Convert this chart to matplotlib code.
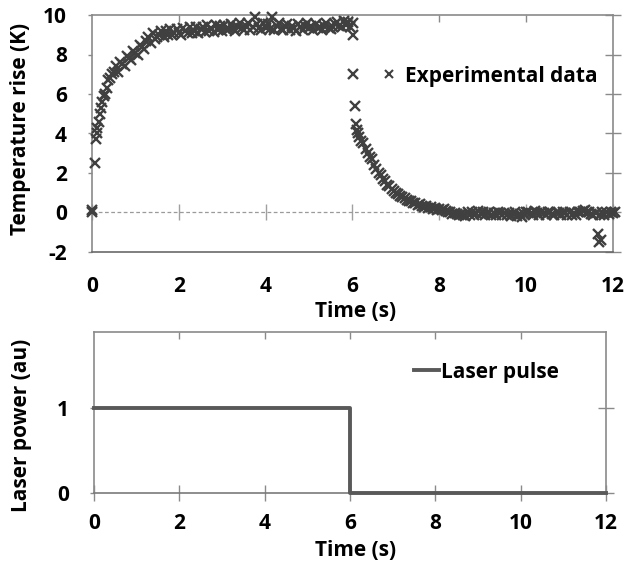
import matplotlib
matplotlib.use("Agg")
import matplotlib.pyplot as plt
from matplotlib.lines import Line2D

plt.rcParams['font.family'] = ['Open Sans', 'DejaVu Sans']
plt.rcParams['font.weight'] = 'bold'
plt.rcParams['axes.unicode_minus'] = False

# ---------------- data ----------------
# heating phase (laser on)
heat_t = [0.00, 0.00, 0.07, 0.10, 0.11, 0.12, 0.15, 0.18, 0.20, 0.24, 0.28, 0.30, 0.34,
          0.37, 0.42, 0.47, 0.50,
          0.55, 0.60, 0.65, 0.70, 0.75, 0.80, 0.85, 0.90, 0.95, 1.00,
          1.05, 1.10, 1.15, 1.20, 1.25, 1.30, 1.35, 1.40, 1.45, 1.50,
          1.55, 1.60, 1.65, 1.70, 1.75, 1.80, 1.85, 1.90, 1.95, 2.00,
          2.05, 2.10, 2.15, 2.20, 2.25, 2.30, 2.35, 2.40, 2.45, 2.50,
          2.55, 2.60, 2.65, 2.70, 2.75, 2.80, 2.85, 2.90, 2.95, 3.00,
          3.05, 3.10, 3.15, 3.20, 3.25, 3.30, 3.35, 3.40, 3.45, 3.50,
          3.55, 3.60, 3.65, 3.70, 3.75, 3.80, 3.85, 3.90, 3.95, 4.00,
          4.05, 4.10, 4.15, 4.20, 4.25, 4.30, 4.35, 4.40, 4.45, 4.50,
          4.55, 4.60, 4.65, 4.70, 4.75, 4.80, 4.85, 4.90, 4.95, 5.00,
          5.05, 5.10, 5.15, 5.20, 5.25, 5.30, 5.35, 5.40, 5.45, 5.50,
          5.55, 5.60, 5.65, 5.70, 5.75, 5.80, 5.85, 5.90, 5.95, 6.00]
heat_T = [0.15, 0.00, 2.5, 3.7, 4.0, 4.3, 4.6, 5.0, 5.3, 5.6, 5.9, 6.0, 6.3,
          6.7, 6.8, 7.0, 7.1,
          7.4, 7.1, 7.6, 7.5, 7.4, 7.9, 7.8, 7.7, 8.2, 8.1,
          8.0, 8.5, 8.4, 8.3, 8.7, 8.9, 8.6, 9.1, 8.8, 8.9,
          9.0, 9.2, 8.9, 9.2, 9.0, 9.3, 9.0, 9.1, 9.3, 9.1,
          9.0, 9.35, 9.2, 9.1, 9.4, 9.1, 9.2, 9.4, 9.1, 9.3,
          9.4, 9.15, 9.5, 9.2, 9.35, 9.15, 9.5, 9.25, 9.45, 9.2,
          9.5, 9.25, 9.3, 9.55, 9.35, 9.2, 9.45, 9.6, 9.35, 9.25,
          9.45, 9.6, 9.25, 9.4, 9.9, 9.55, 9.35, 9.25, 9.6, 9.35,
          9.55, 9.3, 9.9, 9.25, 9.45, 9.6, 9.3, 9.25, 9.45, 9.55,
          9.25, 9.45, 9.35, 9.2, 9.55, 9.4, 9.25, 9.45, 9.6, 9.35,
          9.45, 9.25, 9.55, 9.35, 9.4, 9.25, 9.45, 9.6, 9.35, 9.3,
          9.4, 9.55, 9.65, 9.45, 9.4, 9.7, 9.5, 9.65, 9.4, 9.6]

# cooling phase (laser off)
cool_t = [6.00, 6.01, 6.05, 6.08, 6.10, 6.12,
          6.15, 6.20, 6.25, 6.30, 6.35, 6.40, 6.45, 6.50, 6.55, 6.60,
          6.65, 6.70, 6.75, 6.80, 6.85, 6.90, 6.95, 7.00, 7.05, 7.10,
          7.15, 7.20, 7.25, 7.30, 7.35, 7.40, 7.45, 7.50, 7.55, 7.60,
          7.65, 7.70, 7.75, 7.80, 7.85, 7.90, 7.95, 8.00, 8.05, 8.10,
          8.15, 8.20, 8.25, 8.30, 8.35, 8.40, 8.45, 8.50,
          8.55, 8.60, 8.65, 8.70, 8.75, 8.80, 8.85, 8.90, 8.95, 9.00,
          9.05, 9.10, 9.15, 9.20, 9.25, 9.30, 9.35, 9.40, 9.45, 9.50,
          9.55, 9.60, 9.65, 9.70, 9.75, 9.80, 9.85, 9.90, 9.95, 10.00,
          10.05, 10.10, 10.15, 10.20, 10.25, 10.30, 10.35, 10.40, 10.45, 10.50,
          10.55, 10.60, 10.65, 10.70, 10.75, 10.80, 10.85, 10.90, 10.95, 11.00,
          11.05, 11.10, 11.15, 11.20, 11.25, 11.30, 11.35, 11.40, 11.45, 11.50,
          11.55, 11.60, 11.65, 11.67, 11.70, 11.72, 11.75, 11.80, 11.85, 11.90,
          11.95, 12.00, 12.05]
cool_T = [9.0, 7.0, 5.4, 4.5, 4.2, 4.0,
          3.8, 3.6, 3.5, 3.2, 3.0, 2.8, 2.7, 2.4, 2.2, 2.0,
          1.9, 1.7, 1.6, 1.4, 1.35, 1.2, 1.1, 1.0, 0.95, 0.85,
          0.8, 0.75, 0.65, 0.6, 0.6, 0.5, 0.5, 0.4, 0.45, 0.35,
          0.3, 0.35, 0.25, 0.3, 0.2, 0.25, 0.15, 0.2, 0.15, 0.2,
          0.1, 0.05, 0.0, -0.1, -0.05, -0.1, -0.15, -0.1,
          -0.15, -0.2, -0.0, -0.15, 0.05, -0.15, -0.05, 0.1, -0.1, 0.0,
          -0.15, -0.05, 0.05, -0.15, -0.05, -0.15, 0.05, -0.05, -0.15, -0.05,
          -0.15, -0.05, -0.2, -0.1, 0.0, -0.2, -0.1, -0.25, -0.1, 0.0,
          0.05, -0.05, -0.15, 0.1, -0.05, -0.15, 0.05, -0.05, -0.15, 0.0,
          0.05, -0.1, -0.15, 0.05, -0.05, -0.15, 0.05, -0.05, -0.15, 0.0,
          -0.15, -0.05, -0.15, 0.0, 0.05, 0.1, 0.15, 0.05, 0.0, -0.1,
          -0.15, -0.05, -1.1, -1.5, -0.15, -1.4, 0.0, -0.15, 0.05, -0.1,
          0.05, -0.05, 0.0]

# laser pulse
laser_t = [0, 6, 6, 12]
laser_p = [1, 1, 0, 0]

x_ticks = [0, 2, 4, 6, 8, 10, 12]
temp_ticks = [-2, 0, 2, 4, 6, 8, 10]
power_ticks = [0, 1]

# ---------------- style ----------------
FS = 15
SPINE = '#8a8a8a'
MARK = '#404040'
LINE = '#595959'

fig = plt.figure(figsize=(6.42, 5.65), dpi=100)

# ======== top panel ========
ax1 = fig.add_axes([92/642, 1-252/565, 521/642, 237/565])
ax1.set_xlim(0, 12)
ax1.set_ylim(-2, 10)
ax1.axhline(0, color='#9a9a9a', lw=0.9, ls=(0, (3, 2)), zorder=0.5)
ax1.plot(heat_t + cool_t, heat_T + cool_T, ls='none', marker='x', ms=7, mew=1.7,
         color=MARK, clip_on=False, zorder=3)
for s in ax1.spines.values():
    s.set_color(SPINE)
    s.set_linewidth(1.2)
ax1.spines['bottom'].set_color('#6a6a6a')
ax1.set_xticks(x_ticks)
ax1.set_yticks(temp_ticks)
ax1.tick_params(axis='x', length=0, pad=17, labelsize=FS)
ax1.tick_params(axis='y', direction='out', length=3, width=1, color=SPINE, pad=15, labelsize=FS)
# ticks along the top spine
sec_top = ax1.secondary_xaxis('top')
sec_top.set_xticks(x_ticks[1:-1])
sec_top.tick_params(direction='in', length=5, width=1, color=SPINE, labeltop=False)
sec_top.spines['top'].set_visible(False)
# ticks along the zero line
y0 = (0 - (-2)) / (10 - (-2))
sec_zero = ax1.secondary_xaxis(y0)
sec_zero.set_xticks(x_ticks)
sec_zero.tick_params(direction='inout', length=11, width=1, color='#a0a0a0', labelbottom=False)
sec_zero.spines['bottom'].set_visible(False)
# ticks along the right spine
sec_r = ax1.secondary_yaxis('right')
sec_r.set_yticks(temp_ticks)
sec_r.tick_params(direction='inout', length=12, width=1, color=SPINE, labelright=False)
sec_r.spines['right'].set_visible(False)

ax1.set_xlabel('Time (s)', fontsize=FS, fontweight='bold')
ax1.xaxis.set_label_coords(0.505, -0.205)
ax1.set_ylabel('Temperature rise (K)', fontsize=FS, fontweight='bold')
ax1.yaxis.set_label_coords(-0.118, 0.52)

h1 = Line2D([], [], ls='none', marker='x', ms=5.5, mew=1.5, color=MARK)
ax1.legend([h1], ['Experimental data'], loc='center left', bbox_to_anchor=(0.553, 0.742),
           frameon=False, handlelength=0.9, handletextpad=0.3, borderpad=0, borderaxespad=0,
           prop={'size': FS, 'weight': 'bold'})

# ======== bottom panel ========
ax2 = fig.add_axes([94/642, 1-493/565, 512/642, 161/565])
ax2.set_xlim(0, 12)
ax2.set_ylim(0, 1.9)
ax2.plot(laser_t, laser_p, color=LINE, lw=2.8, clip_on=False, zorder=3, label='Laser pulse')
for s in ax2.spines.values():
    s.set_color(SPINE)
    s.set_linewidth(1.2)
ax2.spines['bottom'].set_color('#7a7a7a')
ax2.set_xticks(x_ticks)
ax2.set_yticks(power_ticks)
ax2.tick_params(axis='x', direction='inout', length=11, width=1, color=SPINE, pad=9, labelsize=FS)
ax2.tick_params(axis='y', direction='out', length=3, width=1, color=SPINE, pad=15, labelsize=FS)
sec2_top = ax2.secondary_xaxis('top')
sec2_top.set_xticks(x_ticks[1:-1])
sec2_top.tick_params(direction='in', length=5, width=1, color=SPINE, labeltop=False)
sec2_top.spines['top'].set_visible(False)
sec2_r = ax2.secondary_yaxis('right')
sec2_r.set_yticks(power_ticks)
sec2_r.tick_params(direction='inout', length=12, width=1, color=SPINE, labelright=False)
sec2_r.spines['right'].set_visible(False)

ax2.set_xlabel('Time (s)', fontsize=FS, fontweight='bold')
ax2.xaxis.set_label_coords(0.51, -0.29)
ax2.set_ylabel('Laser power (au)', fontsize=FS, fontweight='bold')
ax2.yaxis.set_label_coords(-0.121, 0.42)
ax2.legend(loc='center left', bbox_to_anchor=(0.625, 0.75), frameon=False,
           handlelength=1.2, handletextpad=0.1, borderpad=0, borderaxespad=0,
           prop={'size': FS, 'weight': 'bold'})

fig.savefig('out.png', dpi=100)
